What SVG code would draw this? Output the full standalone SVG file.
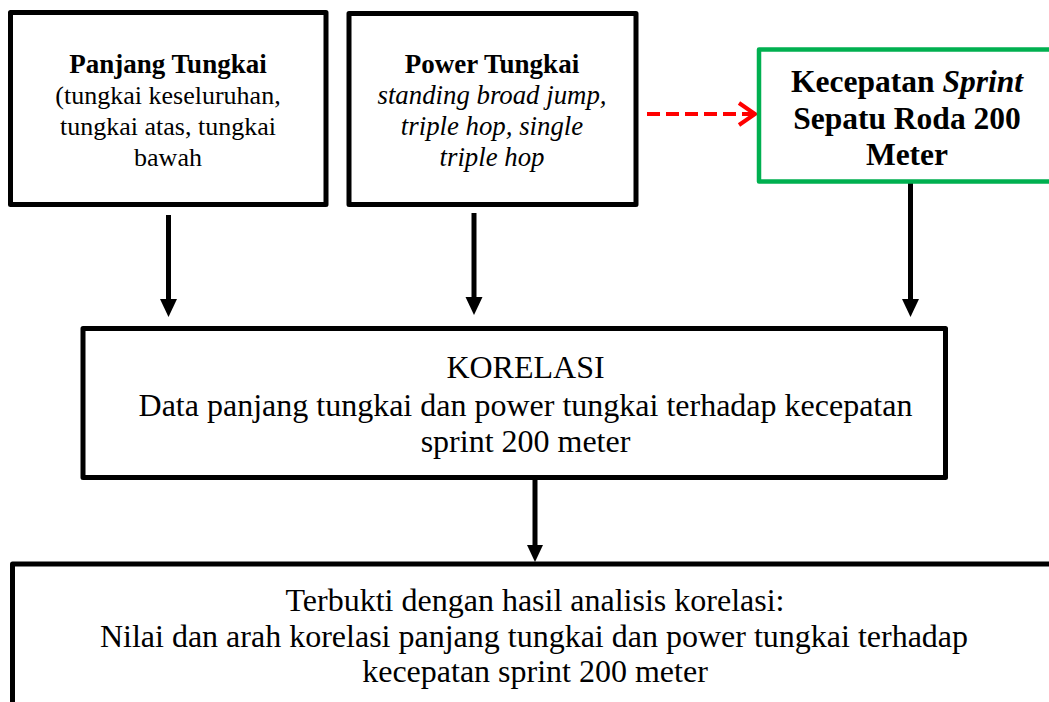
<svg xmlns="http://www.w3.org/2000/svg" width="1049" height="702" viewBox="0 0 1049 702">
<style>
.box{fill:#fff;stroke:#000;stroke-width:5;stroke-linejoin:round}
.green{fill:#fff;stroke:#00b050;stroke-width:4.5;stroke-linejoin:round}
.t{font-family:"Liberation Serif","Times New Roman",serif;fill:#000;text-anchor:middle}
.s26{font-size:26px}
.hd{font-size:27px;font-weight:bold}
.it{font-size:26.8px;font-style:italic}
.s31{font-size:31.5px;font-weight:bold}
.s32{font-size:32px}
.conn{stroke:#000;stroke-width:5;fill:none}
.dash{stroke:#ff0000;stroke-width:4;fill:none;stroke-dasharray:13 6}
</style>
<rect width="1049" height="702" fill="#fff"/>
<g id="connectors">
<line class="conn" x1="168.5" y1="215" x2="168.5" y2="300"/>
<path d="M160,299 L177,299 L168.5,317 Z" fill="#000"/>
<line class="conn" x1="474" y1="213" x2="474" y2="298"/>
<path d="M465.5,297 L482.5,297 L474,315 Z" fill="#000"/>
<line class="conn" x1="910.5" y1="183" x2="910.5" y2="300"/>
<path d="M902,299 L919,299 L910.5,317 Z" fill="#000"/>
<line class="conn" x1="535" y1="479" x2="535" y2="546"/>
<path d="M527,545 L543,545 L535,562 Z" fill="#000"/>
<line class="dash" x1="647" y1="114" x2="752" y2="114"/>
<path d="M739,103 L755,114 L739,125" stroke="#ff0000" stroke-width="4" fill="none"/>
</g>
<g id="node-panjang">
<rect class="box" x="10.5" y="12.5" width="315.5" height="192"/>
<text class="t hd" x="168" y="73">Panjang Tungkai</text>
<text class="t s26" x="168" y="104">(tungkai keseluruhan,</text>
<text class="t s26" x="168" y="135">tungkai atas, tungkai</text>
<text class="t s26" x="168" y="166">bawah</text>
</g>
<g id="node-power">
<rect class="box" x="349" y="13.5" width="287" height="191"/>
<text class="t hd" x="492" y="73">Power Tungkai</text>
<text class="t it" x="492" y="104">standing broad jump,</text>
<text class="t it" x="492" y="135">triple hop, single</text>
<text class="t it" x="492" y="166">triple hop</text>
</g>
<g id="node-kecepatan">
<rect class="green" x="759" y="49.5" width="300" height="132"/>
<text class="t s31" x="907" y="92">Kecepatan <tspan font-style="italic">Sprint</tspan></text>
<text class="t s31" x="907" y="128.5">Sepatu Roda 200</text>
<text class="t s31" x="907" y="165">Meter</text>
</g>
<g id="node-korelasi">
<rect class="box" x="83" y="328.5" width="862.5" height="149"/>
<text class="t s32" x="525.5" y="378">KORELASI</text>
<text class="t s32" x="525.5" y="416">Data panjang tungkai dan power tungkai terhadap kecepatan</text>
<text class="t s32" x="525.5" y="452">sprint 200 meter</text>
</g>
<g id="node-hasil">
<rect class="box" x="12.5" y="564" width="1050" height="160"/>
<text class="t s32" x="535" y="611">Terbukti dengan hasil analisis korelasi:</text>
<text class="t s32" x="534" y="647">Nilai dan arah korelasi panjang tungkai dan power tungkai terhadap</text>
<text class="t s32" x="535" y="682">kecepatan sprint 200 meter</text>
</g>
</svg>
